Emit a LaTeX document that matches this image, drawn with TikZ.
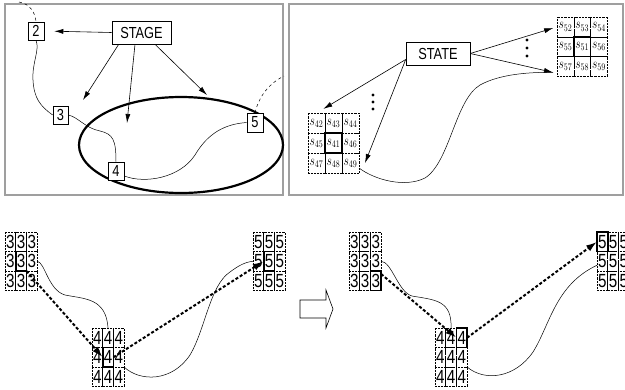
\documentclass[tikz,border=0pt]{standalone}
\usepackage{fontspec}
\setmainfont{Liberation Sans}
\usetikzlibrary{arrows.meta,calc}

\newcommand{\narrow}[1]{\scalebox{0.8}[1]{#1}}
% 3x3 grid of dotted cells: [opts]{name}{top-left}{cell w}{cell h}{labels}
\newcommand{\cellgrid}[6][]{%
  \foreach \lab [count=\i] in {#6} {
    \pgfmathtruncatemacro\row{(\i-1)/3}
    \pgfmathtruncatemacro\col{mod(\i-1,3)}
    \node[cell, #1, minimum width=#4pt, minimum height=#5pt] (#2-\i)
      at ($(#3)+({(\col+0.5)*#4},{(\row+0.5)*#5})$) {\narrow{\lab}};
  }}

\begin{document}
\begin{tikzpicture}[
  x=1pt, y=-1pt,
  frame/.style={draw=gray!75, line width=1.5pt},
  box/.style={rectangle, draw, line width=0.6pt, fill=white, inner sep=0pt,
              font=\fontsize{16}{16}\selectfont},
  cell/.style={rectangle, draw, densely dotted, line width=0.45pt, inner sep=0pt,
               outer sep=0pt},
  snum/.style={font=\fontsize{14}{14}\selectfont},
  dnum/.style={font=\fontsize{19}{19}\selectfont},
  boldcell/.style={line width=1.6pt},
  arr/.style={-{Latex[length=9pt,width=5pt]}, line width=0.6pt},
  dasharr/.style={-{Latex[length=11pt,width=7pt]}, line width=2pt,
                  dash pattern=on 3pt off 2pt},
  link/.style={line width=0.5pt},
  dot/.style={circle, fill, inner sep=0pt, minimum size=3.4pt}
]
\useasboundingbox (0,0) rectangle (625,389);

% panels
\draw[frame] (5,4) rectangle (283,195);
\draw[frame] (289,4) rectangle (623,195);

% ---- stage panel
\draw[line width=2.2pt] (181,145) ellipse [x radius=102, y radius=48];
\node[box, minimum width=59pt, minimum height=23pt] (stage) at (141.5,32.5) {\narrow{STAGE}};
\node[box, minimum width=16pt, minimum height=18pt] (b2) at (36,31) {\narrow{2}};
\node[box, minimum width=15pt, minimum height=18pt] (b3) at (60.5,115) {\narrow{3}};
\node[box, minimum width=16pt, minimum height=18pt] (b4) at (116,171) {\narrow{4}};
\node[box, minimum width=16pt, minimum height=19pt] (b5) at (255,122.5) {\narrow{5}};
\coordinate (top2) at (19,2);
\coordinate (top5) at (284,76);
\coordinate (tipA) at (83,100);
\coordinate (tipB) at (127,123);
\coordinate (tipC) at (207,95);

\draw[arr, shorten >=10pt] (stage.west) -- (b2.east);
\draw[arr] ([xshift=7pt]stage.south west) -- (tipA);
\draw[arr] ([xshift=-6.5pt]stage.south) -- (tipB);
\draw[arr] ([xshift=13.5pt]stage.south) -- (tipC);

\draw[link, dashed] (top2) .. controls (30,4) and (35,12) .. (b2.north);
\draw[link] (b2.south) .. controls (40,50) and (32,62) .. (33,80)
  .. controls (34,98) and (40,106) .. (b3.west);
\draw[link] (b3.east) .. controls (78,117) and (85,128) .. (100,131)
  .. controls (113,134) and (116,140) .. (b4.north);
\draw[link] ([yshift=-5pt]b4.east) .. controls (145,184) and (180,178) .. (195,155)
  .. controls (208,133) and (225,124) .. (b5.west);
\draw[link, dashed] (b5.north) .. controls (258,100) and (266,85) .. (top5);

% ---- state panel
\node[box, minimum width=64pt, minimum height=23pt] (state) at (438,53.5) {\narrow{STATE}};
\cellgrid[snum]{s5}{557,17}{16.8}{19.8}{$s_{52}$,$s_{53}$,$s_{54}$,$s_{55}$,$s_{51}$,$s_{56}$,$s_{57}$,$s_{58}$,$s_{59}$}
\cellgrid[snum]{s4}{308,113}{17}{20}{$s_{42}$,$s_{43}$,$s_{44}$,$s_{45}$,$s_{41}$,$s_{46}$,$s_{47}$,$s_{48}$,$s_{49}$}
\draw[boldcell] (s5-5.north west) rectangle (s5-5.south east);
\draw[boldcell] (s4-5.north west) rectangle (s4-5.south east);
\coordinate (tipD) at ([xshift=-4pt,yshift=4pt]s5-7.south west);
\coordinate (tipE) at ([xshift=6pt]s4-9.east);

\draw[arr, shorten >=4pt] (state.east) -- (s5-1.west);
\draw[arr] (state.east) -- (tipD);
\draw[arr, shorten >=8pt] ([yshift=-6pt]state.west) -- (s4-1.north);
\draw[arr] ([yshift=-6pt]state.west) -- (tipE);
\foreach \k in {40,48,56} \node[dot] at (527,\k) {};
\foreach \k in {95,102,109} \node[dot] at (373,\k) {};
\draw[link] ([yshift=5pt]s4-9.south east) .. controls (375,180) and (405,188) .. (425,178)
  .. controls (450,162) and (455,100) .. (480,85) .. controls (500,74) and (530,72) .. (tipD);

% ---- lower left
\cellgrid[dnum]{p3}{5,232}{10.7}{19.5}{3,3,3,3,3,3,3,3,3}
\cellgrid[dnum]{p4}{92,328}{10.7}{19.5}{4,4,4,4,4,4,4,4,4}
\cellgrid[dnum]{p5}{253,232}{10.7}{19.5}{5,5,5,5,5,5,5,5,5}
\draw[boldcell] (p3-5.north west) rectangle (p3-5.south east);
\draw[boldcell] (p4-5.north west) rectangle (p4-5.south east);
\draw[boldcell] (p5-5.north west) rectangle (p5-5.south east);
\draw[link] (p3-6.east) .. controls (45,262) and (48,290) .. (65,295)
  .. controls (85,299) and (106,298) .. (p4-2.north);
\draw[link] (p4-6.south east) .. controls (140,382) and (172,382) .. (190,355)
  .. controls (205,330) and (210,285) .. (230,272) .. controls (238,266) and (245,262) .. (p5-4.west);
\draw[dasharr] (p3-5.south east) -- (p4-5.west);
\draw[dasharr] (p4-5.east) -- (p5-5.west);

% hollow arrow
\draw[line width=0.6pt] (300,300) -- (326,300) -- (326,290) -- (333,309)
  -- (326,328) -- (326,318) -- (300,318) -- cycle;

% ---- lower right
\cellgrid[dnum]{q3}{349,232}{10.7}{19.5}{3,3,3,3,3,3,3,3,3}
\cellgrid[dnum]{q4}{435,328}{10.7}{19.5}{4,4,4,4,4,4,4,4,4}
\cellgrid[dnum]{q5}{597,232}{10.7}{19.5}{5,5,5,5,5,5,5,5,5}
\draw[boldcell] (q3-9.north west) rectangle (q3-9.south east);
\draw[boldcell] (q4-3.north west) rectangle (q4-3.south east);
\draw[boldcell] (q5-1.north west) rectangle (q5-1.south east);
\draw[link] (q3-6.east) .. controls (392,262) and (398,292) .. (412,296)
  .. controls (435,300) and (452,300) .. (q4-2.north);
\draw[link] (q4-6.south east) .. controls (485,382) and (515,378) .. (533,352)
  .. controls (550,325) and (555,285) .. ([yshift=-4pt]q5-4.west);
\draw[dasharr] ([yshift=-3pt]q3-9.north east) -- (q4-3.west);
\draw[dasharr] (q4-3.east) -- (q5-1.west);
\end{tikzpicture}
\end{document}
